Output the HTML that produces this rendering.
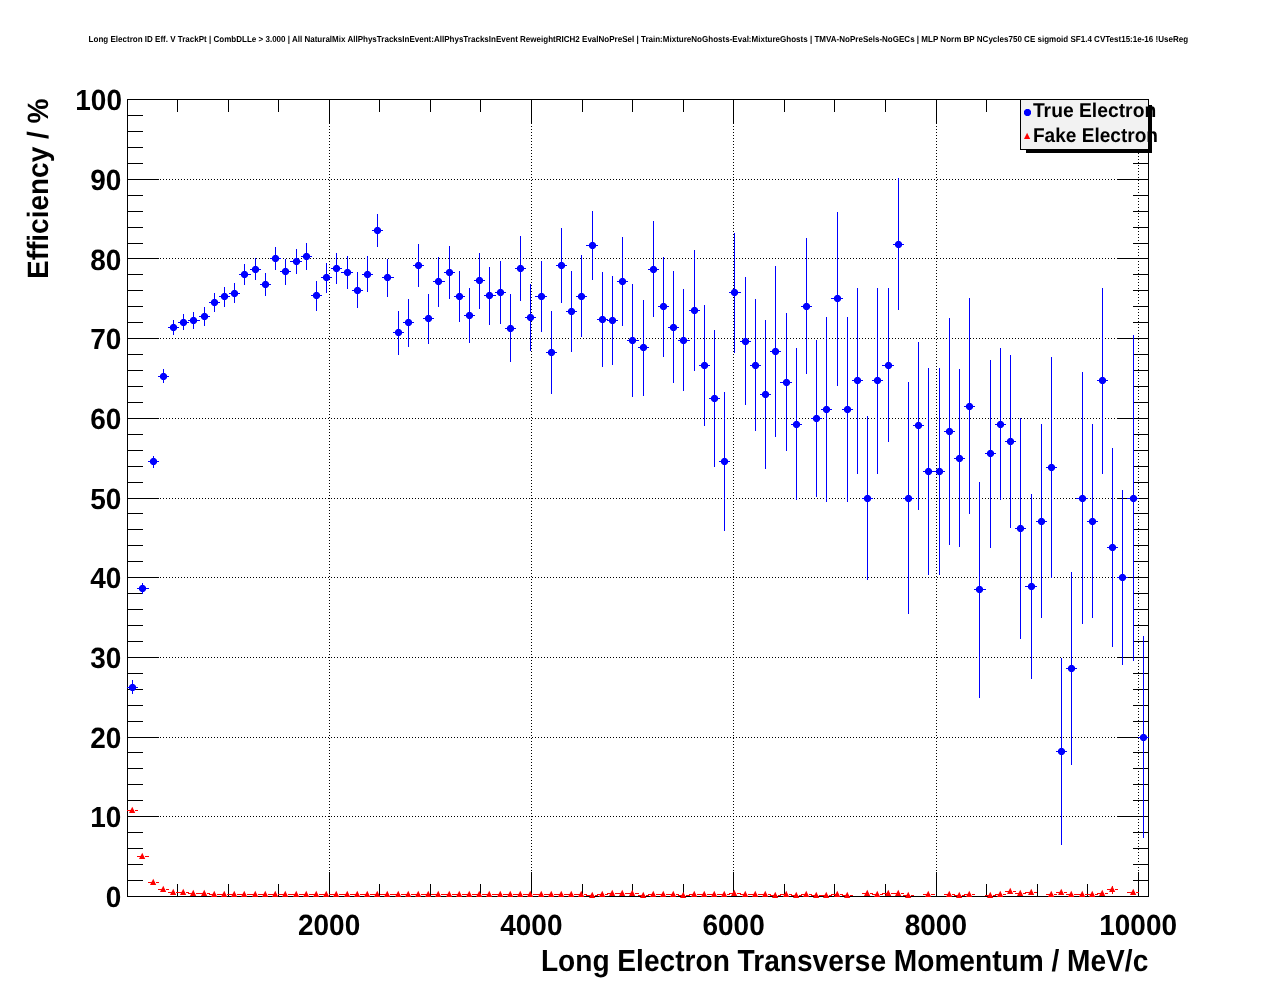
<!DOCTYPE html>
<html lang="en"><head><meta charset="utf-8"><title>Long Electron ID Eff. V TrackPt</title>
<style>html,body{margin:0;padding:0;background:#fff;}svg{display:block;}</style></head>
<body>
<svg width="1276" height="996" viewBox="0 0 1276 996">
<rect x="0" y="0" width="1276" height="996" fill="#fff"/>
<g stroke="#000" stroke-width="1" stroke-dasharray="1 2" shape-rendering="crispEdges" fill="none">
<path d="M160 816.5H1117"/>
<path d="M160 737.5H1117"/>
<path d="M160 657.5H1117"/>
<path d="M160 577.5H1117"/>
<path d="M160 498.5H1117"/>
<path d="M160 418.5H1117"/>
<path d="M160 338.5H1117"/>
<path d="M160 258.5H1117"/>
<path d="M160 179.5H1117"/>
<path d="M329.5 126V872"/>
<path d="M531.5 126V872"/>
<path d="M733.5 126V872"/>
<path d="M936.5 126V872"/>
<path d="M1138.5 126V872"/>
</g>
<g stroke="#000" stroke-width="1" shape-rendering="crispEdges" fill="none">
<rect x="127.5" y="99.5" width="1021" height="797"/>
<path d="M127 880.5h16M1149 880.5h-16M127 864.5h16M1149 864.5h-16M127 848.5h16M1149 848.5h-16M127 832.5h16M1149 832.5h-16M127 816.5h32M1149 816.5h-32M127 800.5h16M1149 800.5h-16M127 784.5h16M1149 784.5h-16M127 768.5h16M1149 768.5h-16M127 752.5h16M1149 752.5h-16M127 737.5h32M1149 737.5h-32M127 721.5h16M1149 721.5h-16M127 705.5h16M1149 705.5h-16M127 689.5h16M1149 689.5h-16M127 673.5h16M1149 673.5h-16M127 657.5h32M1149 657.5h-32M127 641.5h16M1149 641.5h-16M127 625.5h16M1149 625.5h-16M127 609.5h16M1149 609.5h-16M127 593.5h16M1149 593.5h-16M127 577.5h32M1149 577.5h-32M127 561.5h16M1149 561.5h-16M127 545.5h16M1149 545.5h-16M127 529.5h16M1149 529.5h-16M127 513.5h16M1149 513.5h-16M127 498.5h32M1149 498.5h-32M127 482.5h16M1149 482.5h-16M127 466.5h16M1149 466.5h-16M127 450.5h16M1149 450.5h-16M127 434.5h16M1149 434.5h-16M127 418.5h32M1149 418.5h-32M127 402.5h16M1149 402.5h-16M127 386.5h16M1149 386.5h-16M127 370.5h16M1149 370.5h-16M127 354.5h16M1149 354.5h-16M127 338.5h32M1149 338.5h-32M127 322.5h16M1149 322.5h-16M127 306.5h16M1149 306.5h-16M127 290.5h16M1149 290.5h-16M127 274.5h16M1149 274.5h-16M127 258.5h32M1149 258.5h-32M127 243.5h16M1149 243.5h-16M127 227.5h16M1149 227.5h-16M127 211.5h16M1149 211.5h-16M127 195.5h16M1149 195.5h-16M127 179.5h32M1149 179.5h-32M127 163.5h16M1149 163.5h-16M127 147.5h16M1149 147.5h-16M127 131.5h16M1149 131.5h-16M127 115.5h16M1149 115.5h-16M177.5 897v-13M177.5 99v13M228.5 897v-13M228.5 99v13M278.5 897v-13M278.5 99v13M329.5 897v-25M329.5 99v25M379.5 897v-13M379.5 99v13M430.5 897v-13M430.5 99v13M480.5 897v-13M480.5 99v13M531.5 897v-25M531.5 99v25M582.5 897v-13M582.5 99v13M632.5 897v-13M632.5 99v13M683.5 897v-13M683.5 99v13M733.5 897v-25M733.5 99v25M784.5 897v-13M784.5 99v13M834.5 897v-13M834.5 99v13M885.5 897v-13M885.5 99v13M936.5 897v-25M936.5 99v25M986.5 897v-13M986.5 99v13M1037.5 897v-13M1037.5 99v13M1087.5 897v-13M1087.5 99v13M1138.5 897v-25M1138.5 99v25"/>
</g>
<g fill="#0000ff" shape-rendering="crispEdges">
<rect x="132" y="680" width="1" height="14"/><rect x="127" y="687" width="11" height="1"/>
<rect x="142" y="583" width="1" height="11"/><rect x="137" y="588" width="12" height="1"/>
<rect x="153" y="456" width="1" height="12"/><rect x="148" y="461" width="11" height="1"/>
<rect x="163" y="369" width="1" height="14"/><rect x="158" y="376" width="11" height="1"/>
<rect x="173" y="320" width="1" height="15"/><rect x="168" y="327" width="11" height="1"/>
<rect x="183" y="314" width="1" height="16"/><rect x="178" y="322" width="11" height="1"/>
<rect x="193" y="312" width="1" height="17"/><rect x="188" y="320" width="12" height="1"/>
<rect x="204" y="307" width="1" height="19"/><rect x="199" y="316" width="11" height="1"/>
<rect x="214" y="293" width="1" height="19"/><rect x="209" y="302" width="11" height="1"/>
<rect x="224" y="287" width="1" height="20"/><rect x="219" y="296" width="11" height="1"/>
<rect x="234" y="283" width="1" height="20"/><rect x="229" y="293" width="11" height="1"/>
<rect x="244" y="264" width="1" height="21"/><rect x="239" y="274" width="12" height="1"/>
<rect x="255" y="258" width="1" height="22"/><rect x="250" y="269" width="11" height="1"/>
<rect x="265" y="273" width="1" height="23"/><rect x="260" y="284" width="11" height="1"/>
<rect x="275" y="247" width="1" height="23"/><rect x="270" y="258" width="11" height="1"/>
<rect x="285" y="259" width="1" height="26"/><rect x="280" y="271" width="11" height="1"/>
<rect x="296" y="249" width="1" height="25"/><rect x="290" y="261" width="12" height="1"/>
<rect x="306" y="243" width="1" height="27"/><rect x="301" y="256" width="11" height="1"/>
<rect x="316" y="281" width="1" height="30"/><rect x="311" y="295" width="11" height="1"/>
<rect x="326" y="263" width="1" height="30"/><rect x="321" y="277" width="11" height="1"/>
<rect x="336" y="253" width="1" height="31"/><rect x="331" y="268" width="11" height="1"/>
<rect x="347" y="256" width="1" height="33"/><rect x="341" y="272" width="12" height="1"/>
<rect x="357" y="272" width="1" height="36"/><rect x="352" y="290" width="11" height="1"/>
<rect x="367" y="256" width="1" height="36"/><rect x="362" y="274" width="11" height="1"/>
<rect x="377" y="214" width="1" height="33"/><rect x="372" y="230" width="11" height="1"/>
<rect x="387" y="259" width="1" height="38"/><rect x="382" y="277" width="12" height="1"/>
<rect x="398" y="311" width="1" height="44"/><rect x="393" y="332" width="11" height="1"/>
<rect x="408" y="299" width="1" height="48"/><rect x="403" y="322" width="11" height="1"/>
<rect x="418" y="244" width="1" height="43"/><rect x="413" y="265" width="11" height="1"/>
<rect x="428" y="294" width="1" height="50"/><rect x="423" y="318" width="11" height="1"/>
<rect x="438" y="257" width="1" height="50"/><rect x="433" y="281" width="12" height="1"/>
<rect x="449" y="246" width="1" height="53"/><rect x="444" y="272" width="11" height="1"/>
<rect x="459" y="271" width="1" height="51"/><rect x="454" y="296" width="11" height="1"/>
<rect x="469" y="288" width="1" height="55"/><rect x="464" y="315" width="11" height="1"/>
<rect x="479" y="253" width="1" height="56"/><rect x="474" y="280" width="11" height="1"/>
<rect x="489" y="267" width="1" height="58"/><rect x="484" y="295" width="12" height="1"/>
<rect x="500" y="261" width="1" height="63"/><rect x="495" y="292" width="11" height="1"/>
<rect x="510" y="294" width="1" height="68"/><rect x="505" y="328" width="11" height="1"/>
<rect x="520" y="236" width="1" height="65"/><rect x="515" y="268" width="11" height="1"/>
<rect x="530" y="284" width="1" height="67"/><rect x="525" y="317" width="11" height="1"/>
<rect x="541" y="261" width="1" height="71"/><rect x="535" y="296" width="12" height="1"/>
<rect x="551" y="311" width="1" height="83"/><rect x="546" y="352" width="11" height="1"/>
<rect x="561" y="228" width="1" height="75"/><rect x="556" y="265" width="11" height="1"/>
<rect x="571" y="271" width="1" height="81"/><rect x="566" y="311" width="11" height="1"/>
<rect x="581" y="255" width="1" height="82"/><rect x="576" y="296" width="11" height="1"/>
<rect x="592" y="211" width="1" height="69"/><rect x="586" y="245" width="12" height="1"/>
<rect x="602" y="272" width="1" height="95"/><rect x="597" y="319" width="11" height="1"/>
<rect x="612" y="276" width="1" height="89"/><rect x="607" y="320" width="11" height="1"/>
<rect x="622" y="237" width="1" height="89"/><rect x="617" y="281" width="11" height="1"/>
<rect x="632" y="284" width="1" height="113"/><rect x="627" y="340" width="12" height="1"/>
<rect x="643" y="300" width="1" height="96"/><rect x="638" y="347" width="11" height="1"/>
<rect x="653" y="221" width="1" height="96"/><rect x="648" y="269" width="11" height="1"/>
<rect x="663" y="257" width="1" height="100"/><rect x="658" y="306" width="11" height="1"/>
<rect x="673" y="271" width="1" height="112"/><rect x="668" y="327" width="11" height="1"/>
<rect x="683" y="289" width="1" height="102"/><rect x="678" y="340" width="12" height="1"/>
<rect x="694" y="250" width="1" height="121"/><rect x="689" y="310" width="11" height="1"/>
<rect x="704" y="305" width="1" height="121"/><rect x="699" y="365" width="11" height="1"/>
<rect x="714" y="330" width="1" height="137"/><rect x="709" y="398" width="11" height="1"/>
<rect x="724" y="392" width="1" height="139"/><rect x="719" y="461" width="11" height="1"/>
<rect x="734" y="233" width="1" height="120"/><rect x="729" y="292" width="12" height="1"/>
<rect x="745" y="277" width="1" height="128"/><rect x="740" y="341" width="11" height="1"/>
<rect x="755" y="299" width="1" height="132"/><rect x="750" y="365" width="11" height="1"/>
<rect x="765" y="320" width="1" height="149"/><rect x="760" y="394" width="11" height="1"/>
<rect x="775" y="266" width="1" height="171"/><rect x="770" y="351" width="11" height="1"/>
<rect x="786" y="313" width="1" height="138"/><rect x="780" y="382" width="12" height="1"/>
<rect x="796" y="348" width="1" height="152"/><rect x="791" y="424" width="11" height="1"/>
<rect x="806" y="238" width="1" height="136"/><rect x="801" y="306" width="11" height="1"/>
<rect x="816" y="340" width="1" height="157"/><rect x="811" y="418" width="11" height="1"/>
<rect x="826" y="317" width="1" height="185"/><rect x="821" y="409" width="11" height="1"/>
<rect x="837" y="212" width="1" height="174"/><rect x="831" y="298" width="12" height="1"/>
<rect x="847" y="317" width="1" height="185"/><rect x="842" y="409" width="11" height="1"/>
<rect x="857" y="288" width="1" height="186"/><rect x="852" y="380" width="11" height="1"/>
<rect x="867" y="416" width="1" height="164"/><rect x="862" y="498" width="11" height="1"/>
<rect x="877" y="288" width="1" height="186"/><rect x="872" y="380" width="11" height="1"/>
<rect x="888" y="288" width="1" height="154"/><rect x="882" y="365" width="12" height="1"/>
<rect x="898" y="178" width="1" height="132"/><rect x="893" y="244" width="11" height="1"/>
<rect x="908" y="382" width="1" height="232"/><rect x="903" y="498" width="11" height="1"/>
<rect x="918" y="342" width="1" height="168"/><rect x="913" y="425" width="11" height="1"/>
<rect x="928" y="368" width="1" height="207"/><rect x="923" y="471" width="12" height="1"/>
<rect x="939" y="368" width="1" height="207"/><rect x="934" y="471" width="11" height="1"/>
<rect x="949" y="318" width="1" height="227"/><rect x="944" y="431" width="11" height="1"/>
<rect x="959" y="369" width="1" height="178"/><rect x="954" y="458" width="11" height="1"/>
<rect x="969" y="298" width="1" height="216"/><rect x="964" y="406" width="11" height="1"/>
<rect x="979" y="482" width="1" height="216"/><rect x="974" y="589" width="12" height="1"/>
<rect x="990" y="360" width="1" height="188"/><rect x="985" y="453" width="11" height="1"/>
<rect x="1000" y="348" width="1" height="152"/><rect x="995" y="424" width="11" height="1"/>
<rect x="1010" y="355" width="1" height="173"/><rect x="1005" y="441" width="11" height="1"/>
<rect x="1020" y="418" width="1" height="221"/><rect x="1015" y="528" width="11" height="1"/>
<rect x="1031" y="494" width="1" height="185"/><rect x="1025" y="586" width="12" height="1"/>
<rect x="1041" y="424" width="1" height="194"/><rect x="1036" y="521" width="11" height="1"/>
<rect x="1051" y="357" width="1" height="221"/><rect x="1046" y="467" width="11" height="1"/>
<rect x="1061" y="658" width="1" height="187"/><rect x="1056" y="751" width="11" height="1"/>
<rect x="1071" y="572" width="1" height="193"/><rect x="1066" y="668" width="11" height="1"/>
<rect x="1082" y="372" width="1" height="252"/><rect x="1076" y="498" width="12" height="1"/>
<rect x="1092" y="424" width="1" height="194"/><rect x="1087" y="521" width="11" height="1"/>
<rect x="1102" y="288" width="1" height="186"/><rect x="1097" y="380" width="11" height="1"/>
<rect x="1112" y="448" width="1" height="199"/><rect x="1107" y="547" width="11" height="1"/>
<rect x="1122" y="490" width="1" height="175"/><rect x="1117" y="577" width="11" height="1"/>
<rect x="1133" y="335" width="1" height="326"/><rect x="1127" y="498" width="12" height="1"/>
<rect x="1143" y="636" width="1" height="202"/><rect x="1138" y="737" width="11" height="1"/>
</g>
<g fill="#0000ff">
<path d="M131.0 684.0h3l2 2v3l-2 2h-3l-2 -2v-3zM141.0 585.0h3l2 2v3l-2 2h-3l-2 -2v-3zM152.0 458.0h3l2 2v3l-2 2h-3l-2 -2v-3zM162.0 373.0h3l2 2v3l-2 2h-3l-2 -2v-3zM172.0 324.0h3l2 2v3l-2 2h-3l-2 -2v-3zM182.0 319.0h3l2 2v3l-2 2h-3l-2 -2v-3zM192.0 317.0h3l2 2v3l-2 2h-3l-2 -2v-3zM203.0 313.0h3l2 2v3l-2 2h-3l-2 -2v-3zM213.0 299.0h3l2 2v3l-2 2h-3l-2 -2v-3zM223.0 293.0h3l2 2v3l-2 2h-3l-2 -2v-3zM233.0 290.0h3l2 2v3l-2 2h-3l-2 -2v-3zM243.0 271.0h3l2 2v3l-2 2h-3l-2 -2v-3zM254.0 266.0h3l2 2v3l-2 2h-3l-2 -2v-3zM264.0 281.0h3l2 2v3l-2 2h-3l-2 -2v-3zM274.0 255.0h3l2 2v3l-2 2h-3l-2 -2v-3zM284.0 268.0h3l2 2v3l-2 2h-3l-2 -2v-3zM295.0 258.0h3l2 2v3l-2 2h-3l-2 -2v-3zM305.0 253.0h3l2 2v3l-2 2h-3l-2 -2v-3zM315.0 292.0h3l2 2v3l-2 2h-3l-2 -2v-3zM325.0 274.0h3l2 2v3l-2 2h-3l-2 -2v-3zM335.0 265.0h3l2 2v3l-2 2h-3l-2 -2v-3zM346.0 269.0h3l2 2v3l-2 2h-3l-2 -2v-3zM356.0 287.0h3l2 2v3l-2 2h-3l-2 -2v-3zM366.0 271.0h3l2 2v3l-2 2h-3l-2 -2v-3zM376.0 227.0h3l2 2v3l-2 2h-3l-2 -2v-3zM386.0 274.0h3l2 2v3l-2 2h-3l-2 -2v-3zM397.0 329.0h3l2 2v3l-2 2h-3l-2 -2v-3zM407.0 319.0h3l2 2v3l-2 2h-3l-2 -2v-3zM417.0 262.0h3l2 2v3l-2 2h-3l-2 -2v-3zM427.0 315.0h3l2 2v3l-2 2h-3l-2 -2v-3zM437.0 278.0h3l2 2v3l-2 2h-3l-2 -2v-3zM448.0 269.0h3l2 2v3l-2 2h-3l-2 -2v-3zM458.0 293.0h3l2 2v3l-2 2h-3l-2 -2v-3zM468.0 312.0h3l2 2v3l-2 2h-3l-2 -2v-3zM478.0 277.0h3l2 2v3l-2 2h-3l-2 -2v-3zM488.0 292.0h3l2 2v3l-2 2h-3l-2 -2v-3zM499.0 289.0h3l2 2v3l-2 2h-3l-2 -2v-3zM509.0 325.0h3l2 2v3l-2 2h-3l-2 -2v-3zM519.0 265.0h3l2 2v3l-2 2h-3l-2 -2v-3zM529.0 314.0h3l2 2v3l-2 2h-3l-2 -2v-3zM540.0 293.0h3l2 2v3l-2 2h-3l-2 -2v-3zM550.0 349.0h3l2 2v3l-2 2h-3l-2 -2v-3zM560.0 262.0h3l2 2v3l-2 2h-3l-2 -2v-3zM570.0 308.0h3l2 2v3l-2 2h-3l-2 -2v-3zM580.0 293.0h3l2 2v3l-2 2h-3l-2 -2v-3zM591.0 242.0h3l2 2v3l-2 2h-3l-2 -2v-3zM601.0 316.0h3l2 2v3l-2 2h-3l-2 -2v-3zM611.0 317.0h3l2 2v3l-2 2h-3l-2 -2v-3zM621.0 278.0h3l2 2v3l-2 2h-3l-2 -2v-3zM631.0 337.0h3l2 2v3l-2 2h-3l-2 -2v-3zM642.0 344.0h3l2 2v3l-2 2h-3l-2 -2v-3zM652.0 266.0h3l2 2v3l-2 2h-3l-2 -2v-3zM662.0 303.0h3l2 2v3l-2 2h-3l-2 -2v-3zM672.0 324.0h3l2 2v3l-2 2h-3l-2 -2v-3zM682.0 337.0h3l2 2v3l-2 2h-3l-2 -2v-3zM693.0 307.0h3l2 2v3l-2 2h-3l-2 -2v-3zM703.0 362.0h3l2 2v3l-2 2h-3l-2 -2v-3zM713.0 395.0h3l2 2v3l-2 2h-3l-2 -2v-3zM723.0 458.0h3l2 2v3l-2 2h-3l-2 -2v-3zM733.0 289.0h3l2 2v3l-2 2h-3l-2 -2v-3zM744.0 338.0h3l2 2v3l-2 2h-3l-2 -2v-3zM754.0 362.0h3l2 2v3l-2 2h-3l-2 -2v-3zM764.0 391.0h3l2 2v3l-2 2h-3l-2 -2v-3zM774.0 348.0h3l2 2v3l-2 2h-3l-2 -2v-3zM785.0 379.0h3l2 2v3l-2 2h-3l-2 -2v-3zM795.0 421.0h3l2 2v3l-2 2h-3l-2 -2v-3zM805.0 303.0h3l2 2v3l-2 2h-3l-2 -2v-3zM815.0 415.0h3l2 2v3l-2 2h-3l-2 -2v-3zM825.0 406.0h3l2 2v3l-2 2h-3l-2 -2v-3zM836.0 295.0h3l2 2v3l-2 2h-3l-2 -2v-3zM846.0 406.0h3l2 2v3l-2 2h-3l-2 -2v-3zM856.0 377.0h3l2 2v3l-2 2h-3l-2 -2v-3zM866.0 495.0h3l2 2v3l-2 2h-3l-2 -2v-3zM876.0 377.0h3l2 2v3l-2 2h-3l-2 -2v-3zM887.0 362.0h3l2 2v3l-2 2h-3l-2 -2v-3zM897.0 241.0h3l2 2v3l-2 2h-3l-2 -2v-3zM907.0 495.0h3l2 2v3l-2 2h-3l-2 -2v-3zM917.0 422.0h3l2 2v3l-2 2h-3l-2 -2v-3zM927.0 468.0h3l2 2v3l-2 2h-3l-2 -2v-3zM938.0 468.0h3l2 2v3l-2 2h-3l-2 -2v-3zM948.0 428.0h3l2 2v3l-2 2h-3l-2 -2v-3zM958.0 455.0h3l2 2v3l-2 2h-3l-2 -2v-3zM968.0 403.0h3l2 2v3l-2 2h-3l-2 -2v-3zM978.0 586.0h3l2 2v3l-2 2h-3l-2 -2v-3zM989.0 450.0h3l2 2v3l-2 2h-3l-2 -2v-3zM999.0 421.0h3l2 2v3l-2 2h-3l-2 -2v-3zM1009.0 438.0h3l2 2v3l-2 2h-3l-2 -2v-3zM1019.0 525.0h3l2 2v3l-2 2h-3l-2 -2v-3zM1030.0 583.0h3l2 2v3l-2 2h-3l-2 -2v-3zM1040.0 518.0h3l2 2v3l-2 2h-3l-2 -2v-3zM1050.0 464.0h3l2 2v3l-2 2h-3l-2 -2v-3zM1060.0 748.0h3l2 2v3l-2 2h-3l-2 -2v-3zM1070.0 665.0h3l2 2v3l-2 2h-3l-2 -2v-3zM1081.0 495.0h3l2 2v3l-2 2h-3l-2 -2v-3zM1091.0 518.0h3l2 2v3l-2 2h-3l-2 -2v-3zM1101.0 377.0h3l2 2v3l-2 2h-3l-2 -2v-3zM1111.0 544.0h3l2 2v3l-2 2h-3l-2 -2v-3zM1121.0 574.0h3l2 2v3l-2 2h-3l-2 -2v-3zM1132.0 495.0h3l2 2v3l-2 2h-3l-2 -2v-3zM1142.0 734.0h3l2 2v3l-2 2h-3l-2 -2v-3z"/>
</g>
<g fill="#ff0000" shape-rendering="crispEdges">
<rect x="127" y="810" width="7" height="1"/><rect x="135" y="810" width="3" height="1"/>
<rect x="137" y="856" width="7" height="1"/><rect x="145" y="856" width="4" height="1"/>
<rect x="148" y="882" width="7" height="1"/><rect x="156" y="882" width="3" height="1"/>
<rect x="158" y="889" width="7" height="1"/><rect x="166" y="889" width="3" height="1"/>
<rect x="168" y="892" width="7" height="1"/><rect x="176" y="892" width="3" height="1"/>
<rect x="178" y="892" width="7" height="1"/><rect x="186" y="892" width="3" height="1"/>
<rect x="188" y="893" width="7" height="1"/><rect x="196" y="893" width="4" height="1"/>
<rect x="199" y="893" width="7" height="1"/><rect x="207" y="893" width="3" height="1"/>
<rect x="209" y="894" width="7" height="1"/><rect x="217" y="894" width="3" height="1"/>
<rect x="219" y="894" width="7" height="1"/><rect x="227" y="894" width="3" height="1"/>
<rect x="229" y="894" width="7" height="1"/><rect x="237" y="894" width="3" height="1"/>
<rect x="239" y="894" width="7" height="1"/><rect x="247" y="894" width="4" height="1"/>
<rect x="250" y="894" width="7" height="1"/><rect x="258" y="894" width="3" height="1"/>
<rect x="260" y="894" width="7" height="1"/><rect x="268" y="894" width="3" height="1"/>
<rect x="270" y="894" width="7" height="1"/><rect x="278" y="894" width="3" height="1"/>
<rect x="280" y="894" width="7" height="1"/><rect x="288" y="894" width="3" height="1"/>
<rect x="290" y="894" width="8" height="1"/><rect x="299" y="894" width="3" height="1"/>
<rect x="301" y="894" width="7" height="1"/><rect x="309" y="894" width="3" height="1"/>
<rect x="311" y="894" width="7" height="1"/><rect x="319" y="894" width="3" height="1"/>
<rect x="321" y="894" width="7" height="1"/><rect x="329" y="894" width="3" height="1"/>
<rect x="331" y="894" width="7" height="1"/><rect x="339" y="894" width="3" height="1"/>
<rect x="341" y="894" width="8" height="1"/><rect x="350" y="894" width="3" height="1"/>
<rect x="352" y="894" width="7" height="1"/><rect x="360" y="894" width="3" height="1"/>
<rect x="362" y="894" width="7" height="1"/><rect x="370" y="894" width="3" height="1"/>
<rect x="372" y="894" width="7" height="1"/><rect x="380" y="894" width="3" height="1"/>
<rect x="382" y="894" width="7" height="1"/><rect x="390" y="894" width="4" height="1"/>
<rect x="393" y="894" width="7" height="1"/><rect x="401" y="894" width="3" height="1"/>
<rect x="403" y="894" width="7" height="1"/><rect x="411" y="894" width="3" height="1"/>
<rect x="413" y="894" width="7" height="1"/><rect x="421" y="894" width="3" height="1"/>
<rect x="423" y="894" width="7" height="1"/><rect x="431" y="894" width="3" height="1"/>
<rect x="433" y="894" width="7" height="1"/><rect x="441" y="894" width="4" height="1"/>
<rect x="444" y="894" width="7" height="1"/><rect x="452" y="894" width="3" height="1"/>
<rect x="454" y="894" width="7" height="1"/><rect x="462" y="894" width="3" height="1"/>
<rect x="464" y="894" width="7" height="1"/><rect x="472" y="894" width="3" height="1"/>
<rect x="474" y="894" width="7" height="1"/><rect x="482" y="894" width="3" height="1"/>
<rect x="484" y="894" width="7" height="1"/><rect x="492" y="894" width="4" height="1"/>
<rect x="495" y="894" width="7" height="1"/><rect x="503" y="894" width="3" height="1"/>
<rect x="505" y="894" width="7" height="1"/><rect x="513" y="894" width="3" height="1"/>
<rect x="515" y="894" width="7" height="1"/><rect x="523" y="894" width="3" height="1"/>
<rect x="525" y="894" width="7" height="1"/><rect x="533" y="894" width="3" height="1"/>
<rect x="535" y="894" width="8" height="1"/><rect x="544" y="894" width="3" height="1"/>
<rect x="546" y="894" width="7" height="1"/><rect x="554" y="894" width="3" height="1"/>
<rect x="556" y="894" width="7" height="1"/><rect x="564" y="894" width="3" height="1"/>
<rect x="566" y="894" width="7" height="1"/><rect x="574" y="894" width="3" height="1"/>
<rect x="576" y="894" width="7" height="1"/><rect x="584" y="894" width="3" height="1"/>
<rect x="586" y="895" width="8" height="1"/><rect x="595" y="895" width="3" height="1"/>
<rect x="597" y="894" width="7" height="1"/><rect x="605" y="894" width="3" height="1"/>
<rect x="607" y="893" width="7" height="1"/><rect x="615" y="893" width="3" height="1"/>
<rect x="617" y="893" width="7" height="1"/><rect x="625" y="893" width="3" height="1"/>
<rect x="627" y="893" width="7" height="1"/><rect x="635" y="893" width="4" height="1"/>
<rect x="638" y="895" width="7" height="1"/><rect x="646" y="895" width="3" height="1"/>
<rect x="648" y="894" width="7" height="1"/><rect x="656" y="894" width="3" height="1"/>
<rect x="658" y="894" width="7" height="1"/><rect x="666" y="894" width="3" height="1"/>
<rect x="668" y="894" width="7" height="1"/><rect x="676" y="894" width="3" height="1"/>
<rect x="678" y="895" width="7" height="1"/><rect x="686" y="895" width="4" height="1"/>
<rect x="689" y="894" width="7" height="1"/><rect x="697" y="894" width="3" height="1"/>
<rect x="699" y="894" width="7" height="1"/><rect x="707" y="894" width="3" height="1"/>
<rect x="709" y="894" width="7" height="1"/><rect x="717" y="894" width="3" height="1"/>
<rect x="719" y="894" width="7" height="1"/><rect x="727" y="894" width="3" height="1"/>
<rect x="729" y="893" width="7" height="1"/><rect x="737" y="893" width="4" height="1"/>
<rect x="740" y="894" width="7" height="1"/><rect x="748" y="894" width="3" height="1"/>
<rect x="750" y="894" width="7" height="1"/><rect x="758" y="894" width="3" height="1"/>
<rect x="760" y="894" width="7" height="1"/><rect x="768" y="894" width="3" height="1"/>
<rect x="770" y="895" width="7" height="1"/><rect x="778" y="895" width="3" height="1"/>
<rect x="780" y="894" width="8" height="1"/><rect x="789" y="894" width="3" height="1"/>
<rect x="791" y="895" width="7" height="1"/><rect x="799" y="895" width="3" height="1"/>
<rect x="801" y="894" width="7" height="1"/><rect x="809" y="894" width="3" height="1"/>
<rect x="811" y="895" width="7" height="1"/><rect x="819" y="895" width="3" height="1"/>
<rect x="821" y="895" width="7" height="1"/><rect x="829" y="895" width="3" height="1"/>
<rect x="831" y="894" width="8" height="1"/><rect x="840" y="894" width="3" height="1"/>
<rect x="842" y="895" width="7" height="1"/><rect x="850" y="895" width="3" height="1"/>
<rect x="862" y="893" width="7" height="1"/><rect x="870" y="893" width="3" height="1"/>
<rect x="872" y="894" width="7" height="1"/><rect x="880" y="894" width="3" height="1"/>
<rect x="882" y="893" width="8" height="1"/><rect x="891" y="893" width="3" height="1"/>
<rect x="893" y="893" width="7" height="1"/><rect x="901" y="893" width="3" height="1"/>
<rect x="903" y="895" width="7" height="1"/><rect x="911" y="895" width="3" height="1"/>
<rect x="923" y="894" width="7" height="1"/><rect x="931" y="894" width="4" height="1"/>
<rect x="944" y="894" width="7" height="1"/><rect x="952" y="894" width="3" height="1"/>
<rect x="954" y="895" width="7" height="1"/><rect x="962" y="895" width="3" height="1"/>
<rect x="964" y="894" width="7" height="1"/><rect x="972" y="894" width="3" height="1"/>
<rect x="985" y="895" width="7" height="1"/><rect x="993" y="895" width="3" height="1"/>
<rect x="995" y="894" width="7" height="1"/><rect x="1003" y="894" width="3" height="1"/>
<rect x="1005" y="891" width="7" height="1"/><rect x="1013" y="891" width="3" height="1"/>
<rect x="1015" y="893" width="7" height="1"/><rect x="1023" y="893" width="3" height="1"/>
<rect x="1025" y="892" width="8" height="1"/><rect x="1034" y="892" width="3" height="1"/>
<rect x="1046" y="894" width="7" height="1"/><rect x="1054" y="894" width="3" height="1"/>
<rect x="1056" y="892" width="7" height="1"/><rect x="1064" y="892" width="3" height="1"/>
<rect x="1066" y="894" width="7" height="1"/><rect x="1074" y="894" width="3" height="1"/>
<rect x="1076" y="894" width="8" height="1"/><rect x="1085" y="894" width="3" height="1"/>
<rect x="1087" y="894" width="7" height="1"/><rect x="1095" y="894" width="3" height="1"/>
<rect x="1097" y="893" width="7" height="1"/><rect x="1105" y="893" width="3" height="1"/>
<rect x="1107" y="889" width="7" height="1"/><rect x="1115" y="889" width="3" height="1"/>
<rect x="1112" y="886" width="1" height="8"/>
<rect x="1127" y="892" width="8" height="1"/><rect x="1136" y="892" width="3" height="1"/>
</g>
<g fill="#ff0000">
<path d="M132.3 806.8L135.2 813H129Z"/>
<path d="M142.3 852.8L145.2 859H139Z"/>
<path d="M153.3 878.8L156.2 885H150Z"/>
<path d="M163.3 885.8L166.2 892H160Z"/>
<path d="M173.3 888.8L176.2 895H170Z"/>
<path d="M183.3 888.8L186.2 895H180Z"/>
<path d="M193.3 889.8L196.2 896H190Z"/>
<path d="M204.3 889.8L207.2 896H201Z"/>
<path d="M214.3 890.8L217.2 897H211Z"/>
<path d="M224.3 890.8L227.2 897H221Z"/>
<path d="M234.3 890.8L237.2 897H231Z"/>
<path d="M244.3 890.8L247.2 897H241Z"/>
<path d="M255.3 890.8L258.2 897H252Z"/>
<path d="M265.3 890.8L268.2 897H262Z"/>
<path d="M275.3 890.8L278.2 897H272Z"/>
<path d="M285.3 890.8L288.2 897H282Z"/>
<path d="M296.3 890.8L299.2 897H293Z"/>
<path d="M306.3 890.8L309.2 897H303Z"/>
<path d="M316.3 890.8L319.2 897H313Z"/>
<path d="M326.3 890.8L329.2 897H323Z"/>
<path d="M336.3 890.8L339.2 897H333Z"/>
<path d="M347.3 890.8L350.2 897H344Z"/>
<path d="M357.3 890.8L360.2 897H354Z"/>
<path d="M367.3 890.8L370.2 897H364Z"/>
<path d="M377.3 890.8L380.2 897H374Z"/>
<path d="M387.3 890.8L390.2 897H384Z"/>
<path d="M398.3 890.8L401.2 897H395Z"/>
<path d="M408.3 890.8L411.2 897H405Z"/>
<path d="M418.3 890.8L421.2 897H415Z"/>
<path d="M428.3 890.8L431.2 897H425Z"/>
<path d="M438.3 890.8L441.2 897H435Z"/>
<path d="M449.3 890.8L452.2 897H446Z"/>
<path d="M459.3 890.8L462.2 897H456Z"/>
<path d="M469.3 890.8L472.2 897H466Z"/>
<path d="M479.3 890.8L482.2 897H476Z"/>
<path d="M489.3 890.8L492.2 897H486Z"/>
<path d="M500.3 890.8L503.2 897H497Z"/>
<path d="M510.3 890.8L513.2 897H507Z"/>
<path d="M520.3 890.8L523.2 897H517Z"/>
<path d="M530.3 890.8L533.2 897H527Z"/>
<path d="M541.3 890.8L544.2 897H538Z"/>
<path d="M551.3 890.8L554.2 897H548Z"/>
<path d="M561.3 890.8L564.2 897H558Z"/>
<path d="M571.3 890.8L574.2 897H568Z"/>
<path d="M581.3 890.8L584.2 897H578Z"/>
<path d="M592.3 891.8L595.2 898H589Z"/>
<path d="M602.3 890.8L605.2 897H599Z"/>
<path d="M612.3 889.8L615.2 896H609Z"/>
<path d="M622.3 889.8L625.2 896H619Z"/>
<path d="M632.3 889.8L635.2 896H629Z"/>
<path d="M643.3 891.8L646.2 898H640Z"/>
<path d="M653.3 890.8L656.2 897H650Z"/>
<path d="M663.3 890.8L666.2 897H660Z"/>
<path d="M673.3 890.8L676.2 897H670Z"/>
<path d="M683.3 891.8L686.2 898H680Z"/>
<path d="M694.3 890.8L697.2 897H691Z"/>
<path d="M704.3 890.8L707.2 897H701Z"/>
<path d="M714.3 890.8L717.2 897H711Z"/>
<path d="M724.3 890.8L727.2 897H721Z"/>
<path d="M734.3 889.8L737.2 896H731Z"/>
<path d="M745.3 890.8L748.2 897H742Z"/>
<path d="M755.3 890.8L758.2 897H752Z"/>
<path d="M765.3 890.8L768.2 897H762Z"/>
<path d="M775.3 891.8L778.2 898H772Z"/>
<path d="M786.3 890.8L789.2 897H783Z"/>
<path d="M796.3 891.8L799.2 898H793Z"/>
<path d="M806.3 890.8L809.2 897H803Z"/>
<path d="M816.3 891.8L819.2 898H813Z"/>
<path d="M826.3 891.8L829.2 898H823Z"/>
<path d="M837.3 890.8L840.2 897H834Z"/>
<path d="M847.3 891.8L850.2 898H844Z"/>
<path d="M867.3 889.8L870.2 896H864Z"/>
<path d="M877.3 890.8L880.2 897H874Z"/>
<path d="M888.3 889.8L891.2 896H885Z"/>
<path d="M898.3 889.8L901.2 896H895Z"/>
<path d="M908.3 891.8L911.2 898H905Z"/>
<path d="M928.3 890.8L931.2 897H925Z"/>
<path d="M949.3 890.8L952.2 897H946Z"/>
<path d="M959.3 891.8L962.2 898H956Z"/>
<path d="M969.3 890.8L972.2 897H966Z"/>
<path d="M990.3 891.8L993.2 898H987Z"/>
<path d="M1000.3 890.8L1003.2 897H997Z"/>
<path d="M1010.3 887.8L1013.2 894H1007Z"/>
<path d="M1020.3 889.8L1023.2 896H1017Z"/>
<path d="M1031.3 888.8L1034.2 895H1028Z"/>
<path d="M1051.3 890.8L1054.2 897H1048Z"/>
<path d="M1061.3 888.8L1064.2 895H1058Z"/>
<path d="M1071.3 890.8L1074.2 897H1068Z"/>
<path d="M1082.3 890.8L1085.2 897H1079Z"/>
<path d="M1092.3 890.8L1095.2 897H1089Z"/>
<path d="M1102.3 889.8L1105.2 896H1099Z"/>
<path d="M1112.3 885.8L1115.2 892H1109Z"/>
<path d="M1133.3 888.8L1136.2 895H1130Z"/>
</g>
<g shape-rendering="crispEdges">
<rect x="1026" y="105" width="126" height="48" fill="#000"/>
<rect x="1020.5" y="99.5" width="128" height="50" fill="#f2f2f2" stroke="#000" stroke-width="1"/>
</g>
<path d="M1026.0 109.0h3l2 2v3l-2 2h-3l-2 -2v-3z" fill="#0000ff"/>
<path d="M1027.1 132.8L1030.2 138.9H1024Z" fill="#ff0000"/>
<g font-family="'Liberation Sans', Arial, Helvetica, sans-serif" font-weight="bold" fill="#000" text-rendering="geometricPrecision">
<text transform="translate(1032.9,116.7) scale(1,1.085)" font-size="18.4" textLength="123.3" lengthAdjust="spacingAndGlyphs">True Electron</text>
<text transform="translate(1032.9,141.7) scale(1,1.085)" font-size="18.4" textLength="125.1" lengthAdjust="spacingAndGlyphs">Fake Electron</text>
<text transform="translate(88.6,42.2) scale(1,1.085)" font-size="8" textLength="1099.5" lengthAdjust="spacingAndGlyphs">Long Electron ID Eff. V TrackPt | CombDLLe &gt; 3.000 | All NaturalMix AllPhysTracksInEvent:AllPhysTracksInEvent ReweightRICH2 EvalNoPreSel | Train:MixtureNoGhosts-Eval:MixtureGhosts | TMVA-NoPreSels-NoGECs | MLP Norm BP NCycles750 CE sigmoid SF1.4 CVTest15:1e-16 !UseReg</text>
<text transform="translate(121.4,906.9) scale(1,1.045)" font-size="28" text-anchor="end">0</text>
<text transform="translate(121.4,827.2) scale(1,1.045)" font-size="28" text-anchor="end">10</text>
<text transform="translate(121.4,747.5) scale(1,1.045)" font-size="28" text-anchor="end">20</text>
<text transform="translate(121.4,667.9) scale(1,1.045)" font-size="28" text-anchor="end">30</text>
<text transform="translate(121.4,588.2) scale(1,1.045)" font-size="28" text-anchor="end">40</text>
<text transform="translate(121.4,508.5) scale(1,1.045)" font-size="28" text-anchor="end">50</text>
<text transform="translate(121.4,428.8) scale(1,1.045)" font-size="28" text-anchor="end">60</text>
<text transform="translate(121.4,349.1) scale(1,1.045)" font-size="28" text-anchor="end">70</text>
<text transform="translate(121.4,269.5) scale(1,1.045)" font-size="28" text-anchor="end">80</text>
<text transform="translate(121.4,189.8) scale(1,1.045)" font-size="28" text-anchor="end">90</text>
<text transform="translate(122,110.1) scale(1,1.045)" font-size="28" text-anchor="end">100</text>
<text transform="translate(329.1,935) scale(1,1.045)" font-size="28" text-anchor="middle">2000</text>
<text transform="translate(531.3,935) scale(1,1.045)" font-size="28" text-anchor="middle">4000</text>
<text transform="translate(733.6,935) scale(1,1.045)" font-size="28" text-anchor="middle">6000</text>
<text transform="translate(935.8,935) scale(1,1.045)" font-size="28" text-anchor="middle">8000</text>
<text transform="translate(1138.1,935) scale(1,1.045)" font-size="28" text-anchor="middle">10000</text>
<text transform="translate(1148.3,971) scale(1,1.085)" font-size="28" text-anchor="end" textLength="607.4" lengthAdjust="spacingAndGlyphs">Long Electron Transverse Momentum / MeV/c</text>
<text transform="translate(48.3,98.5) rotate(-90) scale(1,1.05)" font-size="28" text-anchor="end" textLength="180.5" lengthAdjust="spacingAndGlyphs">Efficiency / %</text>
</g>
</svg>
</body></html>
